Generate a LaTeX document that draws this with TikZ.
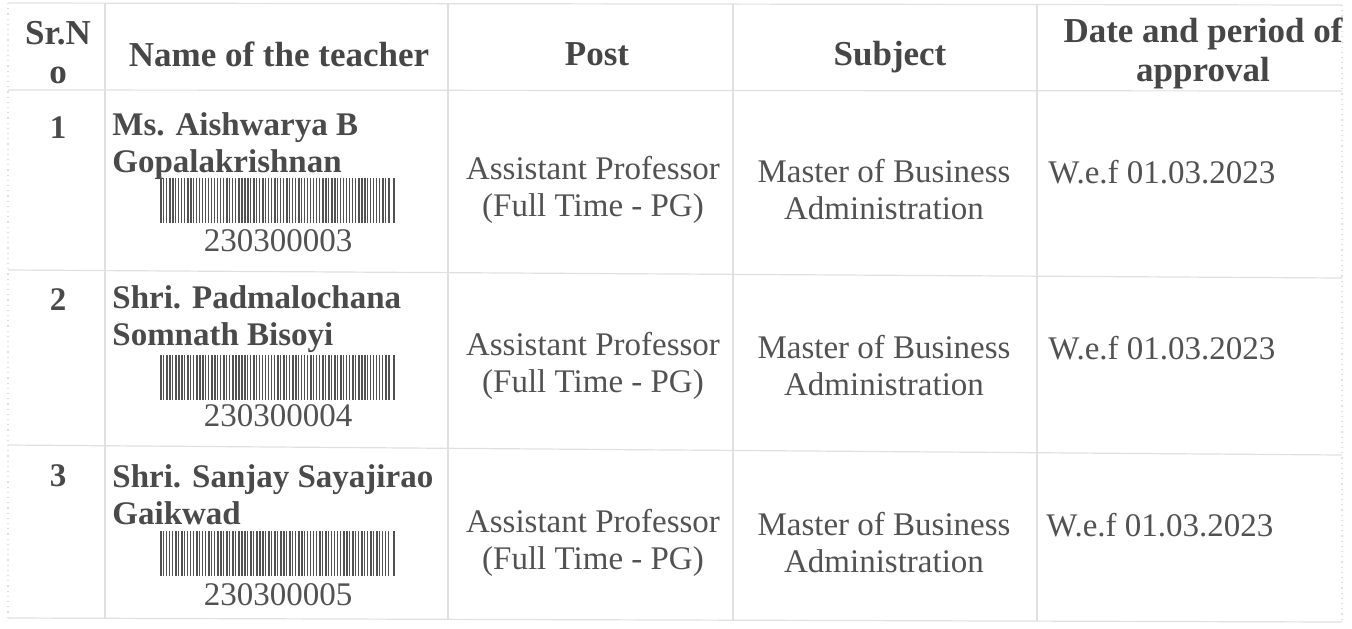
\documentclass[tikz,border=0pt]{standalone}
\usepackage{fontspec}
\setmainfont{Liberation Serif}
\definecolor{ink}{RGB}{82,82,82}
\definecolor{rulegray}{RGB}{224,224,224}

\begin{document}
\begin{tikzpicture}
        [x=0.5pt, y=-0.5pt,
        cell/.style={text=ink, inner sep=0pt, align=center, font=\fontsize{16.5}{18.5}\selectfont},
        headcell/.style={text=ink!85!black, inner sep=0pt, align=center, font=\bfseries\fontsize{17.5}{19.5}\selectfont},
        teacher/.style={text=ink!90!black, inner sep=0pt, align=left, anchor=west, font=\bfseries\fontsize{16.5}{18.5}\selectfont},
        srno/.style={text=ink!90!black, inner sep=0pt, font=\bfseries\fontsize{16.5}{18.5}\selectfont},
        date/.style={text=ink, inner sep=0pt, anchor=west, font=\fontsize{16.5}{18.5}\selectfont},
        gridline/.style={rulegray, line width=0.6pt}]
        \useasboundingbox (0,0) rectangle (1352,628);

        % grid
        \draw[gridline] (8,3) -- (1342,5);
        \draw[gridline] (8,90) -- (1342,91);
        \draw[gridline] (8,270) -- (1342,278);
        \draw[gridline] (8,445) -- (1342,455);
        \draw[gridline] (8,618) -- (1342,622);
        \draw[gridline, dotted] (8,3) -- (8,618);
        \draw[gridline] (105,3) -- (105,618);
        \draw[gridline] (448,3) -- (448,619);
        \draw[gridline] (733,4) -- (733,620);
        \draw[gridline] (1037,4) -- (1037,621);
        \draw[gridline, dotted] (1342,5) -- (1342,622);

        % header
        \node[headcell] (hSr) at (58,53) {Sr.N\\o};
        \node[headcell] (hName) at (279,54) {Name of the teacher};
        \node[headcell] (hPost) at (597,54) {Post};
        \node[headcell] (hSubj) at (890,57) {Subject};
        \node[headcell] (hDate) at (1203,53) {Date and period of\\approval};

        % row 1
        \node[srno] (sr1) at (58,128) {1};
        \node[teacher] (name1) at (112,146) {Ms. Aishwarya B\\Gopalakrishnan};
        \node[cell] (code1) at (278,241) {230300003};
        \node[cell] (post1) at (593,190) {Assistant Professor\\(Full Time - PG)};
        \node[cell] (subj1) at (884,190) {Master of Business\\Administration};
        \node[date] (date1) at (1048,172) {W.e.f 01.03.2023};

        % row 2
        \node[srno] (sr2) at (58,300) {2};
        \node[teacher] (name2) at (112,319) {Shri. Padmalochana\\Somnath Bisoyi};
        \node[cell] (code2) at (278,416) {230300004};
        \node[cell] (post2) at (593,366) {Assistant Professor\\(Full Time - PG)};
        \node[cell] (subj2) at (884,366) {Master of Business\\Administration};
        \node[date] (date2) at (1048,348) {W.e.f 01.03.2023};

        % row 3
        \node[srno] (sr3) at (58,476) {3};
        \node[teacher] (name3) at (112,495) {Shri. Sanjay Sayajirao\\Gaikwad};
        \node[cell] (code3) at (278,595) {230300005};
        \node[cell] (post3) at (593,543) {Assistant Professor\\(Full Time - PG)};
        \node[cell] (subj3) at (884,543) {Master of Business\\Administration};
        \node[date] (date3) at (1046,525) {W.e.f 01.03.2023};

        % barcodes
        \pgfmathsetseed{11}
        \foreach \by in {178,355,531}{
            \fill[ink] (160,\by) rectangle ++(2,45);
            \foreach \k in {1,...,76}{
                \pgfmathtruncatemacro\w{random(1,3)}
                \fill[ink] (160+3*\k,\by) rectangle ++(\w*0.7,45);
            }
            \fill[ink] (393,\by) rectangle ++(2,45);
        }
    \end{tikzpicture}
\end{document}
